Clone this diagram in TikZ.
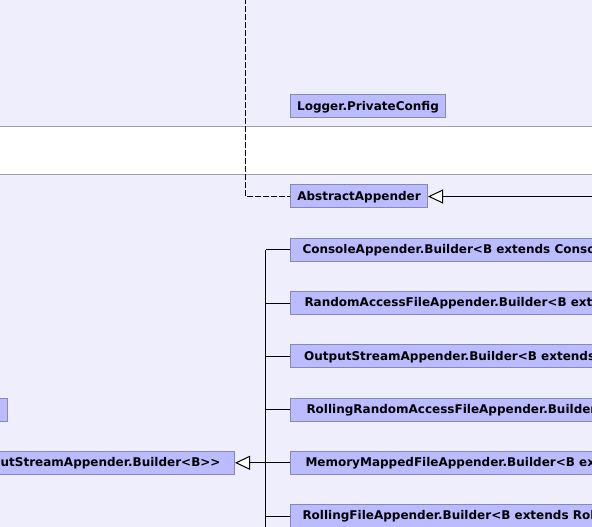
\documentclass[tikz,border=0pt]{standalone}
\usepackage{fontspec}
\setmainfont{DejaVu Sans}
\usetikzlibrary{arrows.meta}
\definecolor{pagebg}{RGB}{238,238,252}
\definecolor{clsfill}{RGB}{187,187,255}
\definecolor{clsline}{RGB}{136,136,184}
\definecolor{bandline}{RGB}{160,160,180}
\tikzset{
  cls/.style={draw=clsline, fill=clsfill, line width=0.75pt, minimum height=17.25pt,
    inner ysep=0pt, inner xsep=5pt, text depth=1.2pt, font=\bfseries\fontsize{9pt}{11pt}\selectfont},
  realize/.style={-{Triangle[length=11.25pt, width=10.5pt, fill=white]}, line width=0.75pt},
  dep/.style={line width=0.75pt, dash pattern=on 4.5pt off 1.5pt},
  conn/.style={line width=0.75pt}
}
\begin{document}
\begin{tikzpicture}[x=0.75pt, y=-0.75pt]
  \useasboundingbox (0,0) rectangle (592,527);
  \fill[pagebg] (0,0) rectangle (592,527);
  \fill[white] (0,127) rectangle (592,175);
  \draw[bandline, line width=0.75pt] (0,127) -- (592,127) (0,175) -- (592,175);
  \clip (0,0) rectangle (592,527);

  % classes
  \node[cls, anchor=west, minimum width=116.25pt] (privcfg) at (290,106.3) {Logger.PrivateConfig};
  \node[cls, anchor=west, minimum width=102.75pt] (absapp) at (290,196.5) {AbstractAppender};
  \node[cls, anchor=east, inner xsep=10.5pt] (outbase) at (235,462.8) {AbstractOutputStreamAppender.Builder<B>{}>};
  \node[cls, anchor=east, minimum width=60pt] (leftcls) at (7.5,409.6) {};

  \coordinate (trunk) at (265.5,250);
  \coordinate (trunkend) at (265.5,540);
  \coordinate (deptop) at (245.5,-10);
  \coordinate (absright) at (610,196.5);

  \foreach \nm/\txt/\pad [count=\i from 0] in {
      console/ConsoleAppender.Builder<B extends ConsoleAppender.Builder<B>{}>/9pt,
      randfile/RandomAccessFileAppender.Builder<B extends RandomAccessFileAppender.Builder<B>{}>/10.5pt,
      outstream/OutputStreamAppender.Builder<B extends OutputStreamAppender.Builder<B>{}>/10.3pt,
      rollrand/RollingRandomAccessFileAppender.Builder<B extends RollingRandomAccessFileAppender.Builder<B>{}>/12pt,
      memmap/MemoryMappedFileAppender.Builder<B extends MemoryMappedFileAppender.Builder<B>{}>/11.25pt,
      rollfile/RollingFileAppender.Builder<B extends RollingFileAppender.Builder<B>{}>/9pt} {
    \node[cls, anchor=west, inner xsep=\pad] (\nm) at (290,{250+53.2*\i}) {\txt};
    \draw[conn] (\nm.west) -- (\nm.west -| trunk);
  }

  % connectors
  \draw[conn] (trunk) -- (trunkend);
  \draw[realize] (memmap.west -| trunk) -- (outbase.east);
  \draw[realize] (absright) -- (absapp.east);
  \draw[dep] (deptop) |- (absapp.west);
\end{tikzpicture}
\end{document}
